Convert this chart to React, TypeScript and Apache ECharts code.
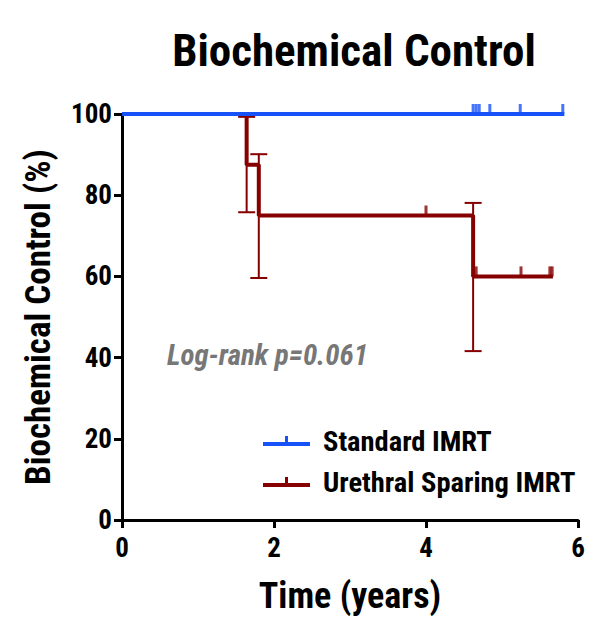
import React, { useEffect, useRef } from "react";
import * as echarts from "echarts";

// Kaplan-Meier step points [time (years), control (%)]
const standardCurve: [number, number][] = [
  [0, 100],
  [5.82, 100],
];
const sparingCurve: [number, number][] = [
  [0, 100],
  [1.64, 87.5],
  [1.8, 75],
  [4.62, 60],
  [5.67, 60],
];
// censor marks
const standardCensored: [number, number][] = [
  [4.62, 100],
  [4.66, 100],
  [4.7, 100],
  [4.84, 100],
  [5.24, 100],
  [5.8, 100],
];
const sparingCensored: [number, number][] = [
  [4.0, 75],
  [4.66, 60],
  [5.25, 60],
  [5.63, 60],
  [5.66, 60],
];
// error bars [time, low, high]
const sparingErrors: [number, number, number][] = [
  [1.64, 75.8, 99.3],
  [1.8, 59.6, 90.1],
  [4.62, 41.6, 78.1],
];
const seriesNames = ["Standard IMRT", "Urethral Sparing IMRT"];
const pValueText = "Log-rank p=0.061";

const FONT = "'Roboto Condensed', 'Liberation Sans', sans-serif";
const BLUE = "#1652f7";
const RED = "#860000";

export default function App() {
  const ref = useRef<HTMLDivElement>(null);
  useEffect(() => {
    document.body.style.margin = "0";
    const chart = echarts.init(ref.current!, undefined, { renderer: "svg" });
    const icon = "path://M0,6 L47,6 L47,10 L0,10 Z M22,0 L25,0 L25,6 L22,6 Z";
    chart.setOption({
      animation: false,
      backgroundColor: "#ffffff",
      title: {
        text: "Biochemical Control",
        left: 349,
        textAlign: "center",
        top: 23,
        textStyle: { fontFamily: FONT, fontWeight: "bold", fontSize: 45, color: "#000" },
      },
      grid: { left: 122, right: 22, top: 114, bottom: 109 },
      legend: {
        data: seriesNames,
        orient: "vertical",
        left: 258,
        top: 421,
        itemWidth: 47,
        itemHeight: 10,
        itemGap: 11,
        icon: icon,
        selectedMode: false,
        textStyle: {
          fontFamily: FONT,
          fontWeight: "bold",
          fontSize: 28.5,
          lineHeight: 30,
          color: "#000",
          padding: [0, 0, 0, 8],
        },
      },
      graphic: [
        {
          type: "text",
          left: 167,
          top: 340,
          style: {
            text: pValueText,
            fontFamily: FONT,
            fontWeight: "bold",
            fontStyle: "italic",
            fontSize: 29,
            fill: "#777777",
          },
        },
      ],
      xAxis: {
        type: "value",
        min: 0,
        max: 6,
        interval: 2,
        name: "Time (years)",
        nameLocation: "middle",
        nameGap: 58,
        nameTextStyle: { fontFamily: FONT, fontWeight: "bold", fontSize: 36, color: "#000" },
        axisLine: { lineStyle: { color: "#000", width: 3 } },
        axisTick: { length: 8, lineStyle: { color: "#000", width: 3 } },
        axisLabel: { fontFamily: FONT, fontWeight: "bold", fontSize: 27, color: "#000", margin: 14 },
        splitLine: { show: false },
      },
      yAxis: {
        type: "value",
        min: 0,
        max: 100,
        interval: 20,
        name: "Biochemical Control (%)",
        nameLocation: "middle",
        nameGap: 66,
        nameTextStyle: { fontFamily: FONT, fontWeight: "bold", fontSize: 35, color: "#000" },
        axisLine: { lineStyle: { color: "#000", width: 3 } },
        axisTick: { length: 8, lineStyle: { color: "#000", width: 3 } },
        axisLabel: { fontFamily: FONT, fontWeight: "bold", fontSize: 27, color: "#000", margin: 10 },
        splitLine: { show: false },
      },
      series: [
        {
          type: "custom",
          name: "sparing-ci",
          z: 1,
          data: sparingErrors,
          renderItem: (params: any, api: any) => {
            const x = api.value(0);
            const lo = api.coord([x, api.value(1)]);
            const hi = api.coord([x, api.value(2)]);
            const w = 8.5;
            const style = { stroke: RED, lineWidth: 2 };
            return {
              type: "group",
              children: [
                { type: "line", shape: { x1: lo[0], y1: lo[1], x2: hi[0], y2: hi[1] }, style },
                { type: "line", shape: { x1: hi[0] - w, y1: hi[1], x2: hi[0] + w, y2: hi[1] }, style },
                { type: "line", shape: { x1: lo[0] - w, y1: lo[1], x2: lo[0] + w, y2: lo[1] }, style },
              ],
            };
          },
        },
        {
          type: "line",
          name: seriesNames[1],
          z: 2,
          step: "end",
          data: sparingCurve,
          showSymbol: false,
          symbol: "none",
          color: RED,
          lineStyle: { color: RED, width: 4 },
        },
        {
          type: "scatter",
          name: "sparing-censored",
          z: 2,
          data: sparingCensored,
          symbol: "rect",
          symbolSize: [3, 10],
          symbolOffset: [0, -5],
          itemStyle: { color: RED },
        },
        {
          type: "line",
          name: seriesNames[0],
          z: 3,
          step: "end",
          data: standardCurve,
          showSymbol: false,
          symbol: "none",
          color: BLUE,
          lineStyle: { color: BLUE, width: 4 },
        },
        {
          type: "scatter",
          name: "standard-censored",
          z: 3,
          data: standardCensored,
          symbol: "rect",
          symbolSize: [3, 10],
          symbolOffset: [0, -5],
          itemStyle: { color: BLUE },
        },
      ],
    });
    return () => chart.dispose();
  }, []);
  return <div ref={ref} style={{ width: 600, height: 629 }} />;
}
